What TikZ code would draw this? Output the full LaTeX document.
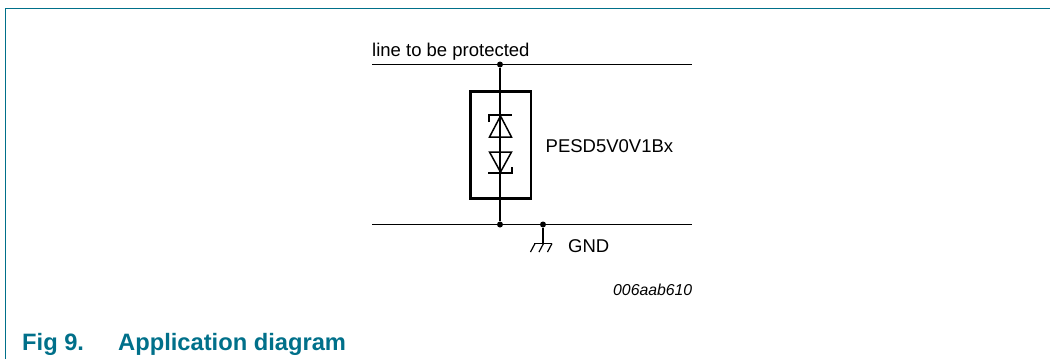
\documentclass[tikz,border=0pt]{standalone}
\usepackage{fontspec}
\setmainfont{Liberation Sans}
\definecolor{nxpteal}{HTML}{00708A}
\tikzset{
  wire/.style={line width=1.3pt,black},
  box/.style={line width=2.8pt,black},
  dotn/.style={circle,fill=black,inner sep=0pt,minimum size=6pt},
  lbl/.style={inner sep=0pt,anchor=base west,font=\fontsize{18.5}{22}\selectfont},
  figcap/.style={inner sep=0pt,anchor=base west,text=nxpteal,font=\fontsize{23.7}{28}\selectfont\bfseries},
  tri/.style={line width=1.5pt,black,line join=miter},
  bar/.style={line width=2pt,black,line join=miter},
}
\begin{document}
\begin{tikzpicture}[x=1pt,y=-1pt]
\useasboundingbox (0,0) rectangle (1050,359);
\fill[white] (0,0) rectangle (1050,359);
\coordinate (fb) at (5.5,359);
\coordinate (fc) at (5.5,8.5);
\coordinate (fr) at (1050,8.5);
\draw[nxpteal,line width=1.2pt] (fb) -- (fc) -- (fr);
% rails
\coordinate (t1) at (372,64.5);
\coordinate (t2) at (692,64.5);
\coordinate (b1) at (372,224.5);
\coordinate (b2) at (692,224.5);
\draw[wire] (t1) -- (t2);
\draw[wire] (b1) -- (b2);
\node[dotn] (dt) at (500,64.5) {};
\node[dotn] (db) at (500,224.5) {};
\node[dotn] (dg) at (543,224.5) {};
\node[draw,box,minimum width=60.5pt,minimum height=107pt,inner sep=0pt] (dev) at (500.8,145.2) {};
\draw[wire] (dt) -- (db);
% diodes
\draw[tri] (500.5,116) -- (489.5,137) -- (511.5,137) -- cycle;
\draw[tri] (500.5,172) -- (489.5,152) -- (511.5,152) -- cycle;
\draw[bar] (489,122) -- (489,115) -- (512,115);
\draw[bar] (488,173) -- (511.5,173) -- (511.5,167);
% ground
\coordinate (g0) at (543,243.5);
\draw[wire,line width=1.5pt] (dg) -- (g0);
\draw[line width=1.2pt] (534,243.5) -- (552,243.5);
\draw[line width=1.2pt] (535,243.5) -- (530.5,252) (543.5,243.5) -- (539,252) (552,243.5) -- (547.5,252);
\node[lbl] (ltp) at (372,56) {line to be protected};
\node[lbl] (pn) at (545.5,152) {PESD5V0V1Bx};
\node[lbl] (gnd) at (568,252) {GND};
\node[inner sep=0pt,anchor=base west,font=\fontsize{15.8}{19}\selectfont\itshape] (code) at (613,295) {006aab610};
\node[figcap] (f9) at (22,350) {Fig 9.};
\node[figcap] (ttl) at (118,350) {Application diagram};
\end{tikzpicture}
\end{document}
